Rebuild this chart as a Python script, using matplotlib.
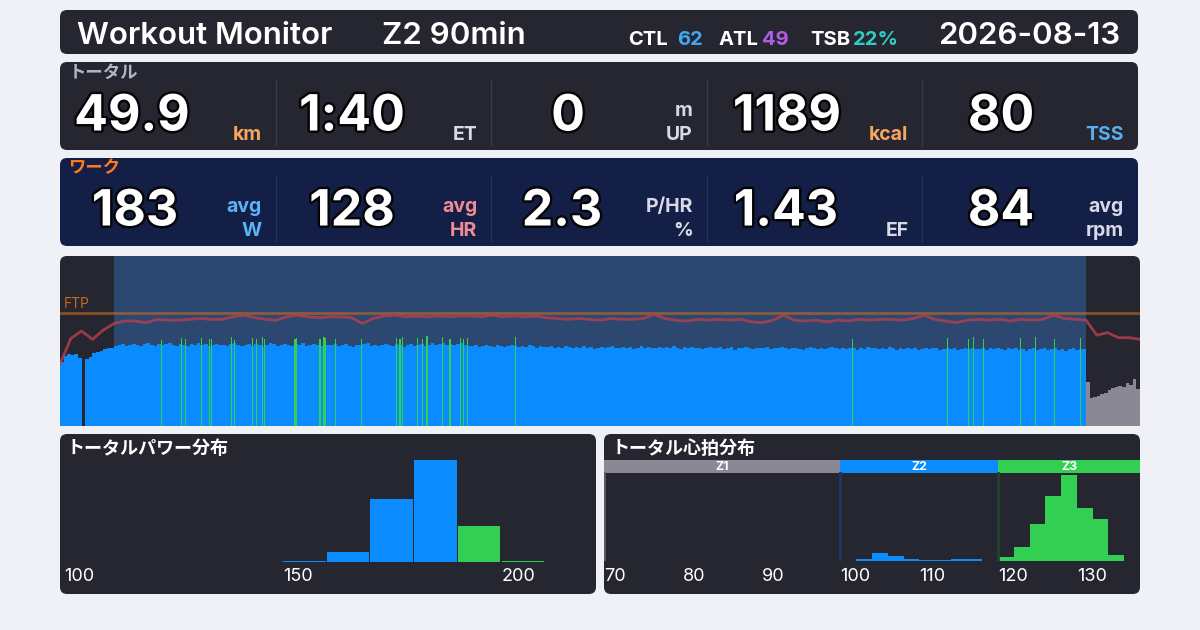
import numpy as np
import matplotlib.pyplot as plt
import matplotlib.patheffects as pe
from matplotlib.patches import FancyBboxPatch

# ---- data ----
ftp = 250
power_zone_edges = [140, 190]          # Z2 / Z3 lower bounds (W)

# power, 20 s samples (W)
power_warmup = [142, 155, 158, 156, 158, 150, 0, 148, 152, 160, 164, 166, 170, 171, 172]
power_main = [
    176, 178, 180, 177, 179, 181, 178, 176, 180, 182, 179, 177, 181, 178, 180, 183, 179, 177, 180, 178, 176, 181, 179, 182, 178, 180, 177, 179, 181, 178,
    179, 177, 180, 182, 178, 176, 179, 181, 177, 180, 178, 175, 179, 182, 180, 177, 178, 181, 179, 176, 180, 178, 182, 177, 179, 181, 178, 176, 180, 179,
    178, 180, 176, 179, 181, 177, 175, 179, 178, 180, 182, 177, 179, 176, 178, 181, 179, 177, 180, 178, 175, 179, 181, 177, 178, 180, 176, 179, 182, 178,
    180, 182, 179, 181, 178, 180, 183, 179, 177, 176, 178, 175, 177, 179, 176, 174, 178, 176, 175, 177, 179, 176, 174, 177, 175, 178, 176, 173, 177, 175,
    174, 176, 172, 175, 173, 177, 174, 171, 175, 173, 176, 172, 174, 170, 173, 175, 172, 174, 176, 171, 173, 175, 172, 174, 170, 173, 176, 172, 174, 171,
    173, 175, 171, 174, 172, 176, 173, 170, 174, 172, 175, 171, 173, 169, 172, 174, 171, 173, 175, 170, 172, 174, 168, 173, 171, 174, 172, 170, 173, 171,
    172, 174, 170, 173, 171, 175, 172, 169, 171, 173, 170, 168, 172, 174, 171, 169, 173, 170, 172, 175, 171, 169, 172, 170, 173, 171, 168, 172, 170, 174,
    171, 173, 169, 172, 170, 174, 171, 168, 172, 170, 173, 169, 171, 167, 170, 172, 169, 171, 173, 168, 170, 172, 169, 171, 167, 170, 173, 169, 171, 170,
    170, 172, 168, 171, 169, 173, 170, 167, 171, 169, 172, 168, 170, 166, 169, 171, 168, 170, 172, 167, 169, 171, 168, 170, 166, 169, 172, 168, 170, 169,
]
power_cooldown = [98, 62, 64, 66, 70, 72, 80, 84, 86, 88, 86, 95, 90, 104, 82]

# short Z3 surges (minute, W)
spike_min = [9.42, 11.27, 11.64, 13.12, 13.82, 14.05, 15.90, 16.14, 17.84, 18.21,
             18.73, 18.92, 21.76, 21.92, 24.07, 24.44, 24.60, 25.53, 27.94, 31.18,
             31.48, 31.73, 33.12, 33.58, 33.98, 35.44, 36.05, 36.14, 37.10, 37.34,
             37.71, 42.16, 73.40, 82.16, 84.10, 84.56, 85.49, 88.92, 90.31, 92.06, 94.47]
spike_w = [190, 194, 192, 195, 191, 193, 196, 190, 194, 192,
           197, 193, 191, 195, 192, 196, 194, 191, 193, 195,
           192, 197, 194, 191, 199, 196, 192, 193, 195, 191,
           194, 196, 193, 195, 191, 197, 192, 194, 196, 193, 195]

# heart rate, 1 min samples (bpm)
hr = [74, 105, 114, 104, 115, 123, 126, 126, 124, 128,
      127, 127, 128, 129, 128, 128, 131, 133, 130, 128,
      127, 131, 133, 131, 130, 131, 131, 130, 123, 129,
      132, 133, 131, 132, 131, 132, 131, 132, 132, 131,
      133, 131, 132, 131, 132, 130, 129, 128, 129, 128,
      127, 129, 128, 128, 129, 134, 129, 127, 126, 128,
      127, 128, 127, 128, 125, 124, 127, 133, 127, 126,
      127, 125, 127, 126, 128, 127, 128, 128, 127, 129,
      133, 128, 126, 124, 127, 128, 127, 128, 126, 128,
      127, 128, 133, 129, 128, 127, 109, 112, 106, 106,
      104]

work_start, work_end = 5, 95

# distributions (% of time)
pow_bins = [150, 160, 170, 180, 190, 200]
pow_pct = [0.7, 4.5, 29.6, 47.7, 16.7, 0.7]
hr_bins = [102, 104, 106, 108, 110, 112, 114, 116, 118, 120, 122, 124, 126, 128, 130, 132, 134]
hr_pct = [0.5, 2.5, 1.4, 0.5, 0.2, 0.2, 0.5, 0.5, 0.1, 1.1, 4.3, 11.2, 19.8, 26.3, 16.1, 12.8, 1.7]
hr_zone_names = ['Z1', 'Z2', 'Z3']
hr_zone_edges = [70, 100, 120, 138]

# stats
total_vals = ['49.9', '1:40', '0', '1189', '80']
total_units = [('', 'km'), ('', 'ET'), ('m', 'UP'), ('', 'kcal'), ('', 'TSS')]
work_vals = ['183', '128', '2.3', '1.43', '84']
work_units = [('avg', 'W'), ('avg', 'HR'), ('P/HR', '%'), ('', 'EF'), ('avg', 'rpm')]

# ---- style ----
BG = '#f0f1f6'
PANEL = '#262630'
NAVY = '#131f47'
BLUE = '#0a8cff'
GREEN = '#33cf52'
GREY = '#8a8894'
LAT = ['Inter', 'DejaVu Sans']
JP = ['Noto Sans CJK JP', 'DejaVu Sans']
W, H = 1200, 630

fig = plt.figure(figsize=(12, 6.3), dpi=100, facecolor=BG)
bg = fig.add_axes([0, 0, 1, 1])
bg.set_xlim(0, W)
bg.set_ylim(H, 0)
bg.axis('off')


def panel(x0, y0, x1, y1, color):
    bg.add_patch(FancyBboxPatch((x0, y0), x1 - x0, y1 - y0,
                                boxstyle='round,pad=0,rounding_size=7', fc=color, ec='none'))


def px_axes(x0, y0, x1, y1):
    a = fig.add_axes([x0 / W, 1 - y1 / H, (x1 - x0) / W, (y1 - y0) / H])
    a.set_facecolor('none')
    for s in a.spines.values():
        s.set_visible(False)
    return a


def zone_color(p):
    if p >= power_zone_edges[1]:
        return GREEN
    if p >= power_zone_edges[0]:
        return BLUE
    return GREY


# panels
panel(60, 10, 1138, 54, PANEL)
panel(60, 62, 1138, 150, PANEL)
panel(60, 158, 1138, 246, NAVY)
panel(60, 256, 1140, 426, PANEL)
panel(60, 434, 596, 594, PANEL)
panel(604, 434, 1140, 594, PANEL)

# header
bg.text(77, 44, 'Workout Monitor', family=LAT, fontsize=22.5, weight='semibold', color='white', va='baseline')
bg.text(382, 44, 'Z2 90min', family=LAT, fontsize=22.5, weight='semibold', color='white', va='baseline')
bg.text(1120, 44, '2026-08-13', family=LAT, fontsize=22.5, weight='semibold', color='white', va='baseline', ha='right')
hdr = [(628, 'CTL', 'white'), (677, '62', '#3fa9f5'), (719, 'ATL', 'white'), (762, '49', '#b05ce6'),
       (810, 'TSB', 'white'), (853, '22%', '#2ccfc4')]
for x, s, c in hdr:
    bg.text(x, 45, s, family=LAT, fontsize=14.5, weight='bold', color=c, va='baseline')

# stat rows
col_w = (1138 - 60) / 5
total_cx = [132, 352, 568, 787, 1001]
work_cx = [135, 352, 562, 786, 1001]
total_ucol = ['#f5a561', '#d8d8e6', '#d8d8e6', '#f5a561', '#5aaeef']
work_ucol = ['#5ab4f5', '#f28b94', '#d8d8e6', '#d8d8e6', '#d8d8e6']
stroke = [pe.withStroke(linewidth=3.5, foreground='#050508')]

bg.text(69, 73, 'トータル', family=JP, fontsize=12.5, weight='bold', color='#b4b4c4', va='center')
bg.text(68, 168, 'ワーク', family=JP, fontsize=12.5, weight='bold', color='#ff7a1a', va='center')

for row, (vals, units, cxs, ucols, y_val, y_base) in enumerate([
        (total_vals, total_units, total_cx, total_ucol, 117, 140),
        (work_vals, work_units, work_cx, work_ucol, 212, 236)]):
    top = 62 if row == 0 else 158
    for i in range(5):
        x_right = 60 + col_w * (i + 1)
        if i > 0:
            bg.plot([60 + col_w * i] * 2, [top + 18, top + 83], color='#3a3b47' if row == 0 else '#26325a', lw=1)
        bg.text(cxs[i], y_val, vals[i], family=LAT, fontsize=36, weight='bold', color='white',
                ha='center', va='center', path_effects=stroke)
        u1, u2 = units[i]
        bg.text(x_right - 14, y_base, u2, family=LAT, fontsize=14, weight='bold', color=ucols[i],
                ha='right', va='baseline')
        if u1:
            bg.text(x_right - 14, y_base - 24, u1, family=LAT, fontsize=14, weight='bold', color=ucols[i],
                    ha='right', va='baseline')

# ---- time series ----
ax = px_axes(60, 256, 1140, 426)
power = power_warmup + power_main + power_cooldown
t_pow = np.arange(len(power)) / 3.0
ax.axvspan(work_start, work_end, color='#2c4770', lw=0, zorder=0)
ax.bar(t_pow, power, width=1 / 3, align='edge', color=[zone_color(p) for p in power], lw=0, zorder=2)
ax.bar(spike_min, spike_w, width=0.12, color=[zone_color(p) for p in spike_w], lw=0, zorder=3)
ax.axhline(ftp, color='#c0651f', lw=2, alpha=0.65, zorder=4)
ax.text(0.35, ftp + 4, 'FTP', family=LAT, fontsize=10, color='#c8691c', va='bottom')
ax.set_xlim(0, 100)
ax.set_ylim(0, ftp * 1.5)
ax.set_xticks([])
ax.set_yticks([])

ax2 = ax.twinx()
ax2.set_facecolor('none')
for s in ax2.spines.values():
    s.set_visible(False)
ax2.plot(np.arange(len(hr)), hr, color='#b5404e', lw=2, alpha=0.8, zorder=5)
ax2.set_ylim(0, 204)
ax2.set_yticks([])

# ---- power distribution ----
bg.text(67, 449, 'トータルパワー分布', family=JP, fontsize=13, weight='bold', color='white', va='center')
axp = px_axes(60, 460, 596, 562)
axp.bar(pow_bins, pow_pct, width=9.75, align='edge', color=[zone_color(b) for b in pow_bins], lw=0)
axp.set_xlim(99, 221.6)
axp.set_ylim(0, max(pow_pct))
axp.set_yticks([])
axp.set_xticks([100, 150, 200])
axp.set_xticklabels(['100', '150', '200'])
axp.tick_params(axis='x', length=0, pad=4, labelsize=13, labelcolor='white')
for lbl in axp.get_xticklabels():
    lbl.set_ha('left')
    lbl.set_family(LAT)

# ---- heart rate distribution ----
bg.text(612, 449, 'トータル心拍分布', family=JP, fontsize=13, weight='bold', color='white', va='center')
axh = px_axes(604, 460, 1140, 561)
band = 88.0 / 101.0
zcols = [GREY, BLUE, GREEN]
line_cols = ['#5c5b66', '#1c3a60', '#21432d']
for k in range(3):
    lo, hi = hr_zone_edges[k], hr_zone_edges[k + 1]
    axh.axvspan(lo, hi, ymin=band, ymax=1, color=zcols[k], lw=0)
    axh.axvline(lo, ymax=band, color=line_cols[k], lw=2)
    axh.text((lo + hi) / 2, (band + 1) / 2, hr_zone_names[k], transform=axh.get_xaxis_transform(),
             family=LAT, fontsize=9, weight='bold', color='white', ha='center', va='center')
hr_cols = [BLUE if b < hr_zone_edges[2] else GREEN for b in hr_bins]
axh.bar(hr_bins, hr_pct, width=2, align='edge', color=hr_cols, lw=0)
axh.set_xlim(70, 138)
axh.set_ylim(0, max(hr_pct) / band * 1.02)
axh.set_yticks([])
axh.set_xticks([70, 80, 90, 100, 110, 120, 130])
axh.set_xticklabels(['70', '80', '90', '100', '110', '120', '130'])
axh.tick_params(axis='x', length=0, pad=5, labelsize=13, labelcolor='white')
for lbl in axh.get_xticklabels():
    lbl.set_ha('left')
    lbl.set_family(LAT)

fig.savefig('out.png', dpi=100, facecolor=BG)
